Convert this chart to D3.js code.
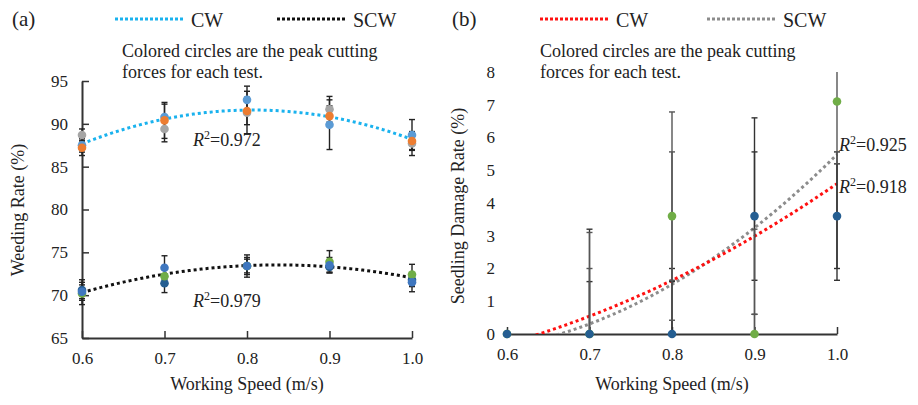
<!DOCTYPE html>
<html>
<head>
<meta charset="utf-8">
<script src="https://cdn.jsdelivr.net/npm/d3@7"></script>
<style>
  body { margin: 0; background: #fff; }
  text { font-family: "Liberation Serif", "DejaVu Serif", serif; fill: #222; }
</style>
</head>
<body>
<script>
// speeds (m/s)
const speeds = [0.6, 0.7, 0.8, 0.9, 1.0];

// (a) weeding rate, colored circles = individual tests
const cwBlue   = [87.5, 90.8, 92.8, 89.9, 88.7];
const cwOrange = [87.2, 90.4, 91.5, 90.9, 88.0];
const cwGray   = [88.7, 89.4, 91.3, 91.7, 87.7];
const cwBlueErr   = [0.8, 1.5, 1.6, 2.9, 1.8];
const cwOrangeErr = [0.9, 2.1, 1.6, 1.2, 1.0];
const cwGrayErr   = [0.7, 1.5, 2.5, 1.5, 1.4];

const scwBlue  = [70.4, 73.2, 73.4, 73.5, 71.5];
const scwGreen = [70.2, 72.2, 73.4, 73.9, 72.4];
const scwDark  = [70.6, 71.4, 73.4, 73.3, 71.8];
const scwBlueErr  = [0.8, 1.4, 1.3, 0.9, 1.1];
const scwGreenErr = [1.3, 1.0, 1.0, 1.3, 1.2];
const scwDarkErr  = [1.2, 1.1, 0.8, 0.6, 0.8];

// (b) seedling damage rate
const dmgBlue  = [0, 0, 0, 3.6, 3.6];
const dmgGreen = [0, 0, 3.6, 0, 7.1];
const dmgBlueErr1  = [0, 3.2, 2.0, 3.0, 1.96];
const dmgBlueErr2  = [0, 1.6, 1.6, 1.96, 1.6];
const dmgGreenErr1 = [0, 3.1, 3.18, 3.2, 1.9];
const dmgGreenErr2 = [0, 2.0, 1.96, 0.6, 0];
// trendline values
const dmgCwTrend  = [-0.3, 0.55, 1.65, 2.96, 4.6];
const dmgScwTrend = [-0.4, 0.33, 1.53, 3.2, 5.5];

const xTicks = [0.6, 0.7, 0.8, 0.9, 1.0];
const yTicksA = [65, 70, 75, 80, 85, 90, 95];
const yTicksB = [0, 1, 2, 3, 4, 5, 6, 7, 8];

const W = 918, H = 405;
const svg = d3.select("body").append("svg").attr("width", W).attr("height", H);

// quadratic least squares through all given (x, y) pairs
function polyfit2(xs, ys) {
  let n = xs.length, sx = 0, sx2 = 0, sx3 = 0, sx4 = 0, sy = 0, sxy = 0, sx2y = 0;
  for (let i = 0; i < n; i++) {
    const x = xs[i], y = ys[i];
    sx += x; sx2 += x * x; sx3 += x * x * x; sx4 += x * x * x * x;
    sy += y; sxy += x * y; sx2y += x * x * y;
  }
  const M = [[n, sx, sx2, sy], [sx, sx2, sx3, sxy], [sx2, sx3, sx4, sx2y]];
  for (let i = 0; i < 3; i++) {
    for (let k = i + 1; k < 3; k++) {
      const f = M[k][i] / M[i][i];
      for (let j = i; j < 4; j++) M[k][j] -= f * M[i][j];
    }
  }
  const c = [0, 0, 0];
  for (let i = 2; i >= 0; i--) {
    let s = M[i][3];
    for (let j = i + 1; j < 3; j++) s -= M[i][j] * c[j];
    c[i] = s / M[i][i];
  }
  return x => c[0] + c[1] * x + c[2] * x * x;
}

function drawPanel(opt) {
  const x = d3.scaleLinear().domain([0.6, 1.0]).range([opt.x0, opt.x1]);
  const y = d3.scaleLinear().domain(opt.yDomain).range([opt.yBottom, opt.yTop]);
  const g = svg.append("g");

  const clipId = "clip" + opt.id;
  svg.append("clipPath").attr("id", clipId).append("rect")
    .attr("x", opt.x0 - 6).attr("y", opt.yTop)
    .attr("width", opt.x1 - opt.x0 + 12).attr("height", opt.yBottom - opt.yTop);

  // axes (ticks pointing inward)
  const yAxis = g.append("g").attr("transform", `translate(${opt.x0},0)`)
    .call(d3.axisLeft(y).tickValues(opt.yTicks).tickSize(opt.showYLine ? -7 : 0).tickPadding(opt.showYLine ? 14 : 12).tickSizeOuter(0));
  const xAxis = g.append("g").attr("transform", `translate(0,${opt.yBottom})`)
    .call(d3.axisBottom(x).tickValues(xTicks).tickFormat(d3.format(".1f")).tickSize(-7).tickPadding(14).tickSizeOuter(0));
  [xAxis, yAxis].forEach(a => {
    a.selectAll("path").attr("stroke", "#333").attr("stroke-width", 2);
    a.selectAll("line").attr("stroke", "#333").attr("stroke-width", 1.5);
    a.selectAll("text").style("font-size", "17px").attr("fill", "#222");
  });
  if (!opt.showYLine) yAxis.select("path").attr("stroke", "none");

  const plot = g.append("g").attr("clip-path", `url(#${clipId})`);

  // trend lines
  const xs = d3.range(0.6, 1.0001, 0.005);
  opt.trends.forEach(t => {
    plot.append("path")
      .datum(xs.map(v => [v, t.f(v)]).filter(p => p[1] >= opt.yDomain[0] - 0.05))
      .attr("d", d3.line().x(d => x(d[0])).y(d => y(d[1])))
      .attr("fill", "none").attr("stroke", t.color)
      .attr("stroke-width", 3).attr("stroke-dasharray", "3 3");
  });

  // error bars
  opt.errs.forEach(e => {
    e.vals.forEach((v, i) => {
      const err = e.err[i];
      if (!err) return;
      const lo = y(v - err), hi = y(v + err), cx = x(speeds[i]);
      plot.append("line").attr("x1", cx).attr("x2", cx).attr("y1", lo).attr("y2", hi)
        .attr("stroke", e.color).attr("stroke-width", 1.4);
      [lo, hi].forEach(yy => plot.append("line")
        .attr("x1", cx - 3).attr("x2", cx + 3).attr("y1", yy).attr("y2", yy)
        .attr("stroke", e.color).attr("stroke-width", 1.4));
    });
  });

  // circles
  opt.points.forEach(p => {
    g.selectAll(null).data(p.vals).enter().append("circle")
      .attr("cx", (d, i) => x(speeds[i])).attr("cy", d => y(d))
      .attr("r", 4.3).attr("fill", p.color);
  });

  // axis titles
  g.append("text").attr("x", (opt.x0 + opt.x1) / 2).attr("y", 390)
    .attr("text-anchor", "middle").style("font-size", "18px").text("Working Speed (m/s)");
  g.append("text").attr("transform", `translate(${opt.yTitleX},${opt.yTitleY}) rotate(-90)`)
    .attr("text-anchor", "middle").style("font-size", "18px").text(opt.yTitle);

  // R² labels
  opt.r2.forEach(r => {
    const t = g.append("text").attr("x", r.x).attr("y", r.y).style("font-size", "18px");
    t.append("tspan").style("font-style", "italic").text("R");
    t.append("tspan").attr("dy", -7).style("font-size", "12px").text("2");
    t.append("tspan").attr("dy", 7).text("=" + r.v);
  });

  // panel letter, legend, note
  g.append("text").attr("x", opt.letterX).attr("y", 26).style("font-size", "21px").text(opt.letter);
  opt.legend.forEach(l => {
    g.append("line").attr("x1", l.x).attr("x2", l.x + 68).attr("y1", 19).attr("y2", 19)
      .attr("stroke", l.color).attr("stroke-width", 3).attr("stroke-dasharray", "3 2");
    g.append("text").attr("x", l.x + 76).attr("y", 27).style("font-size", "20px").text(l.name);
  });
  g.append("text").attr("x", opt.noteX).attr("y", 57).style("font-size", "18px")
    .text("Colored circles are the peak cutting");
  g.append("text").attr("x", opt.noteX).attr("y", 78).style("font-size", "18px")
    .text("forces for each test.");
}

// panel (a)
const fitCW = polyfit2(speeds.concat(speeds, speeds), cwBlue.concat(cwOrange, cwGray));
const fitSCW = polyfit2(speeds.concat(speeds, speeds), scwBlue.concat(scwGreen, scwDark));
drawPanel({
  id: "a", x0: 82, x1: 412, yTop: 81, yBottom: 338, yDomain: [65, 95], yTicks: yTicksA,
  showYLine: true,
  yTitle: "Weeding Rate (%)", yTitleX: 24, yTitleY: 210,
  letter: "(a)", letterX: 12, noteX: 122,
  legend: [{ x: 115, color: "#1ab2ee", name: "CW" }, { x: 277, color: "#111", name: "SCW" }],
  trends: [{ f: fitCW, color: "#1ab2ee" }, { f: fitSCW, color: "#111" }],
  errs: [
    { vals: cwBlue, err: cwBlueErr, color: "#222" }, { vals: cwOrange, err: cwOrangeErr, color: "#222" },
    { vals: cwGray, err: cwGrayErr, color: "#222" }, { vals: scwBlue, err: scwBlueErr, color: "#222" },
    { vals: scwGreen, err: scwGreenErr, color: "#222" }, { vals: scwDark, err: scwDarkErr, color: "#222" }
  ],
  points: [
    { vals: cwGray, color: "#a5a5a5" }, { vals: cwBlue, color: "#5b9bd5" }, { vals: cwOrange, color: "#ed7d31" },
    { vals: scwDark, color: "#255e91" }, { vals: scwGreen, color: "#70ad47" }, { vals: scwBlue, color: "#3f77bf" }
  ],
  r2: [{ x: 193, y: 146, v: "0.972" }, { x: 193, y: 307, v: "0.979" }]
});

// panel (b)
const fitCWb = polyfit2(speeds, dmgCwTrend);
const fitSCWb = polyfit2(speeds, dmgScwTrend);
drawPanel({
  id: "b", x0: 507, x1: 837, yTop: 72, yBottom: 334, yDomain: [0, 8], yTicks: yTicksB,
  showYLine: false,
  yTitle: "Seedling Damage Rate (%)", yTitleX: 464, yTitleY: 206,
  letter: "(b)", letterX: 452, noteX: 540,
  legend: [{ x: 540, color: "#ff1010", name: "CW" }, { x: 707, color: "#8c8c8c", name: "SCW" }],
  trends: [{ f: fitSCWb, color: "#8c8c8c" }, { f: fitCWb, color: "#ff1010" }],
  errs: [
    { vals: dmgBlue, err: dmgBlueErr1, color: "#333" }, { vals: dmgBlue, err: dmgBlueErr2, color: "#333" },
    { vals: dmgGreen, err: dmgGreenErr1, color: "#555" }, { vals: dmgGreen, err: dmgGreenErr2, color: "#555" }
  ],
  points: [{ vals: dmgGreen, color: "#70ad47" }, { vals: dmgBlue, color: "#255e91" }],
  r2: [{ x: 839, y: 151, v: "0.925" }, { x: 839, y: 193, v: "0.918" }]
});
</script>
</body>
</html>
